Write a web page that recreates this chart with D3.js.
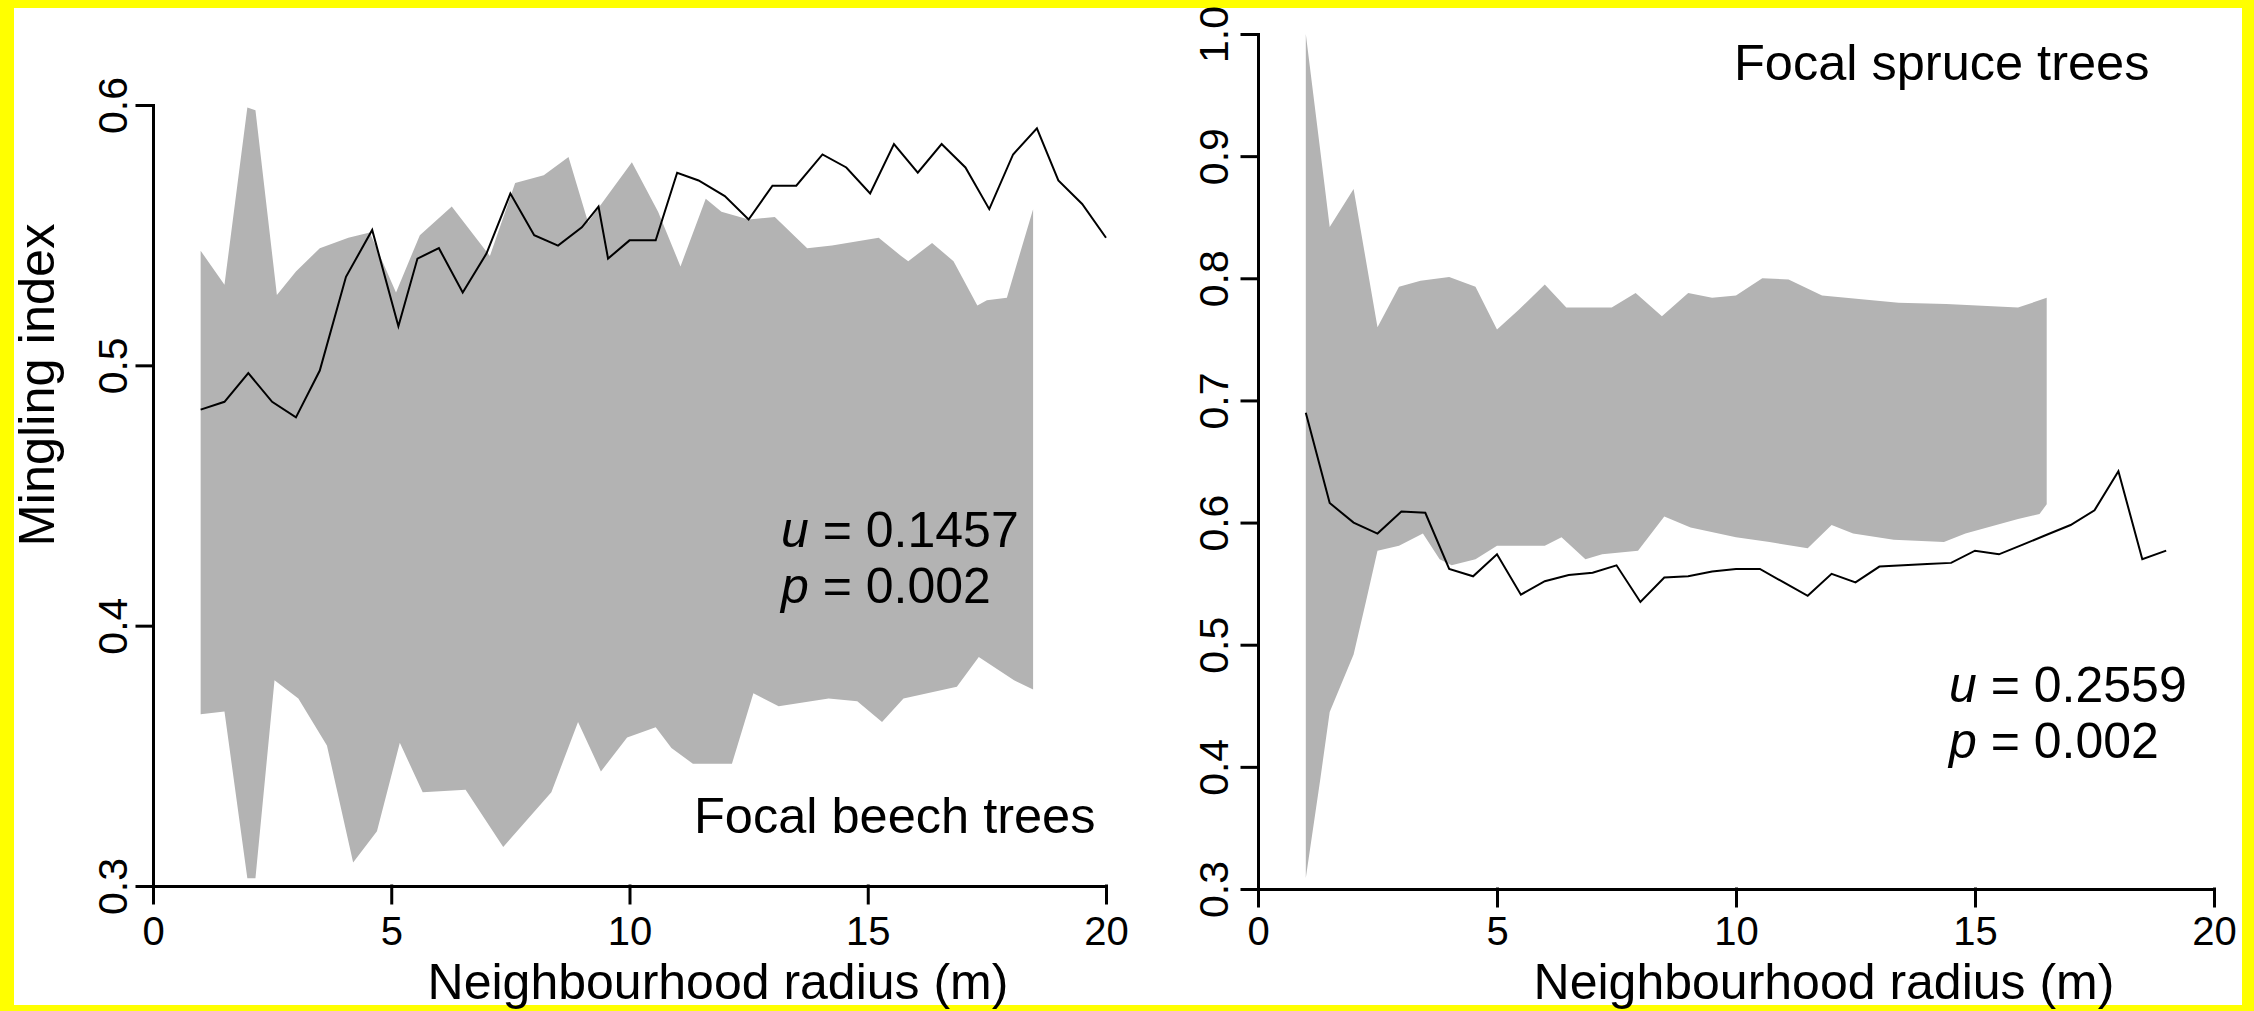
<!DOCTYPE html>
<html>
<head>
<meta charset="utf-8">
<script src="https://cdn.jsdelivr.net/npm/d3@7"></script>
<style>
  html, body { margin: 0; padding: 0; background: #ffff00; }
  svg { display: block; }
  text { font-family: "Liberation Sans", Arial, Helvetica, sans-serif; fill: #000; }
</style>
</head>
<body>
<svg id="chart" width="2254" height="1011"></svg>
<script>
// ---------------- DATA ----------------
// Left panel: focal beech trees
const beechLineX = [1.0,1.5,2.0,2.5,3.0,3.5,4.05,4.6,5.15,5.55,6.0,6.5,7.0,7.5,8.0,8.5,9.0,9.35,9.55,10.0,10.55,11.0,11.45,12.0,12.5,13.0,13.5,14.05,14.55,15.05,15.55,16.05,16.55,17.05,17.55,18.05,18.55,19.0,19.5,20.0];
const beechLineY = [0.483,0.486,0.497,0.486,0.480,0.498,0.534,0.552,0.515,0.541,0.545,0.528,0.543,0.566,0.550,0.546,0.553,0.561,0.541,0.548,0.548,0.574,0.571,0.565,0.556,0.569,0.569,0.581,0.576,0.566,0.585,0.574,0.585,0.576,0.560,0.581,0.591,0.571,0.562,0.549];
const beechUpperX = [1.0,1.5,1.98,2.15,2.6,3.0,3.5,4.1,4.55,5.1,5.6,6.27,7.07,7.6,8.2,8.72,9.13,9.57,10.05,10.6,11.07,11.6,11.93,12.5,13.05,13.5,13.73,14.25,15.23,15.7,15.85,16.35,16.8,17.3,17.5,17.92,18.47];
const beechUpperY = [0.544,0.531,0.599,0.598,0.527,0.536,0.545,0.549,0.551,0.528,0.550,0.561,0.542,0.570,0.573,0.580,0.555,0.566,0.578,0.559,0.538,0.564,0.559,0.556,0.557,0.549,0.545,0.546,0.549,0.542,0.540,0.547,0.540,0.523,0.525,0.526,0.560];
const beechLowerX = [1.0,1.5,1.98,2.15,2.55,3.05,3.65,4.2,4.7,5.18,5.66,6.56,7.35,8.36,8.92,9.4,9.95,10.55,10.88,11.33,12.15,12.6,13.13,14.18,14.78,15.3,15.75,16.87,17.33,18.07,18.47];
const beechLowerY = [0.366,0.367,0.303,0.303,0.379,0.372,0.354,0.309,0.321,0.355,0.336,0.337,0.315,0.336,0.363,0.344,0.357,0.361,0.353,0.347,0.347,0.374,0.369,0.372,0.371,0.363,0.372,0.3765,0.388,0.379,0.3755];

// Right panel: focal spruce trees
const spruceLineX = [1.0,1.5,2.0,2.5,3.0,3.5,4.0,4.5,5.0,5.5,6.0,6.5,7.0,7.5,8.0,8.5,9.0,9.5,10.0,10.5,11.0,11.5,12.0,12.5,13.0,13.5,14.0,14.5,15.0,15.5,16.0,16.5,17.0,17.5,18.0,18.5,19.0];
const spruceLineY = [0.690,0.616,0.600,0.591,0.609,0.608,0.562,0.556,0.574,0.541,0.552,0.557,0.559,0.565,0.535,0.555,0.556,0.560,0.562,0.562,0.551,0.540,0.558,0.551,0.564,0.565,0.566,0.567,0.577,0.574,0.582,0.590,0.598,0.610,0.642,0.570,0.577];
const spruceUpperX = [1.0,1.39,1.5,2.0,2.5,2.95,3.4,4.0,4.55,5.0,5.45,6.0,6.45,6.85,7.4,7.9,8.45,9.0,9.5,10.0,10.55,11.1,11.8,13.4,14.4,15.9,16.5];
const spruceUpperY = [1.0,0.877,0.842,0.873,0.760,0.793,0.798,0.801,0.793,0.758,0.774,0.795,0.776,0.776,0.776,0.788,0.769,0.788,0.784,0.786,0.800,0.799,0.786,0.780,0.779,0.776,0.784];
const spruceLowerX = [1.0,1.3,1.5,2.0,2.25,2.5,2.95,3.45,3.8,4.05,4.55,5.0,5.45,6.0,6.35,6.85,7.2,7.95,8.5,9.05,10.0,10.7,11.5,12.0,12.45,13.3,14.35,14.8,15.9,16.35,16.5];
const spruceLowerY = [0.309,0.389,0.445,0.492,0.534,0.577,0.581,0.591,0.570,0.565,0.570,0.581,0.581,0.581,0.588,0.570,0.574,0.577,0.605,0.596,0.588,0.584,0.579,0.598,0.591,0.586,0.584,0.591,0.603,0.607,0.615];

const xTicks = [0, 5, 10, 15, 20];
const beechYTicks = [0.3, 0.4, 0.5, 0.6];
const spruceYTicks = [0.3, 0.4, 0.5, 0.6, 0.7, 0.8, 0.9, 1.0];

// ---------------- DRAW ----------------
const svg = d3.select("#chart");
svg.append("rect").attr("x", 14).attr("y", 8).attr("width", 2228).attr("height", 997).attr("fill", "#ffffff");

function zip(xs, ys) { return xs.map((x, i) => [x, ys[i]]); }

function panel(cfg) {
  const x = d3.scaleLinear().domain([0, 20]).range(cfg.xRange);
  const y = d3.scaleLinear().domain(cfg.yDomain).range(cfg.yRange);
  const g = svg.append("g");
  const lineGen = d3.line().x(d => x(d[0])).y(d => y(d[1]));

  const poly = zip(cfg.upX, cfg.upY).concat(zip(cfg.loX, cfg.loY).reverse());
  g.append("path").attr("d", lineGen(poly) + "Z").attr("fill", "#b3b3b3").attr("stroke", "none");

  g.append("path").attr("d", lineGen(zip(cfg.lineX, cfg.lineY)))
    .attr("fill", "none").attr("stroke", "#000").attr("stroke-width", 2).attr("stroke-linejoin", "miter");

  // x axis
  const ax = g.append("g").attr("transform", `translate(0,${cfg.yRange[0]})`)
    .call(d3.axisBottom(x).tickValues(xTicks).tickSize(17).tickSizeOuter(0).tickFormat(d3.format("d")));
  ax.selectAll("text").attr("dy", null).attr("y", cfg.xLabelOffset).attr("font-size", 40).attr("font-family", null);
  // y axis
  const ay = g.append("g").attr("transform", `translate(${cfg.xRange[0]},0)`)
    .call(d3.axisLeft(y).tickValues(cfg.yTicks).tickSize(16).tickSizeOuter(0).tickFormat(d3.format(".1f")));
  ay.selectAll("text").attr("dy", null).attr("x", 0).attr("y", cfg.yLabelOffset)
    .attr("text-anchor", "middle").attr("transform", "rotate(-90)").attr("font-size", 41).attr("font-family", null);
  [ax, ay].forEach(a => {
    a.selectAll("path, line").attr("stroke", "#000").attr("stroke-width", 3).attr("stroke-linecap", "square");
    a.attr("font-family", null);
  });

  // x title
  g.append("text").attr("x", cfg.xTitleX).attr("y", 999).attr("text-anchor", "middle")
    .attr("font-size", 50).text("Neighbourhood radius (m)");

  // panel label
  g.append("text").attr("x", cfg.label[0]).attr("y", cfg.label[1]).attr("font-size", 50.5).text(cfg.labelText);

  // statistics
  const u = g.append("text").attr("x", cfg.stat[0]).attr("y", cfg.stat[1]).attr("font-size", 50);
  u.append("tspan").attr("font-style", "italic").text("u");
  u.append("tspan").text(" = " + cfg.uText);
  const p = g.append("text").attr("x", cfg.stat[0]).attr("y", cfg.stat[1] + 56).attr("font-size", 50);
  p.append("tspan").attr("font-style", "italic").text("p");
  p.append("tspan").text(" = " + cfg.pText);
}

panel({
  xRange: [153, 1106], yDomain: [0.3, 0.6], yRange: [886, 105], yTicks: beechYTicks,
  lineX: beechLineX, lineY: beechLineY, upX: beechUpperX, upY: beechUpperY, loX: beechLowerX, loY: beechLowerY,
  xLabelOffset: 59, yLabelOffset: -26, xTitleX: 718,
  label: [694, 833], labelText: "Focal beech trees",
  stat: [781, 547], uText: "0.1457", pText: "0.002"
});

panel({
  xRange: [1258, 2214], yDomain: [0.3, 1.0], yRange: [889, 34], yTicks: spruceYTicks,
  lineX: spruceLineX, lineY: spruceLineY, upX: spruceUpperX, upY: spruceUpperY, loX: spruceLowerX, loY: spruceLowerY,
  xLabelOffset: 56, yLabelOffset: -30, xTitleX: 1824,
  label: [1734, 80], labelText: "Focal spruce trees",
  stat: [1949, 702], uText: "0.2559", pText: "0.002"
});

// y title
svg.append("text").attr("transform", "translate(54,385) rotate(-90)").attr("text-anchor", "middle")
  .attr("font-size", 50.5).text("Mingling index");
</script>
</body>
</html>
